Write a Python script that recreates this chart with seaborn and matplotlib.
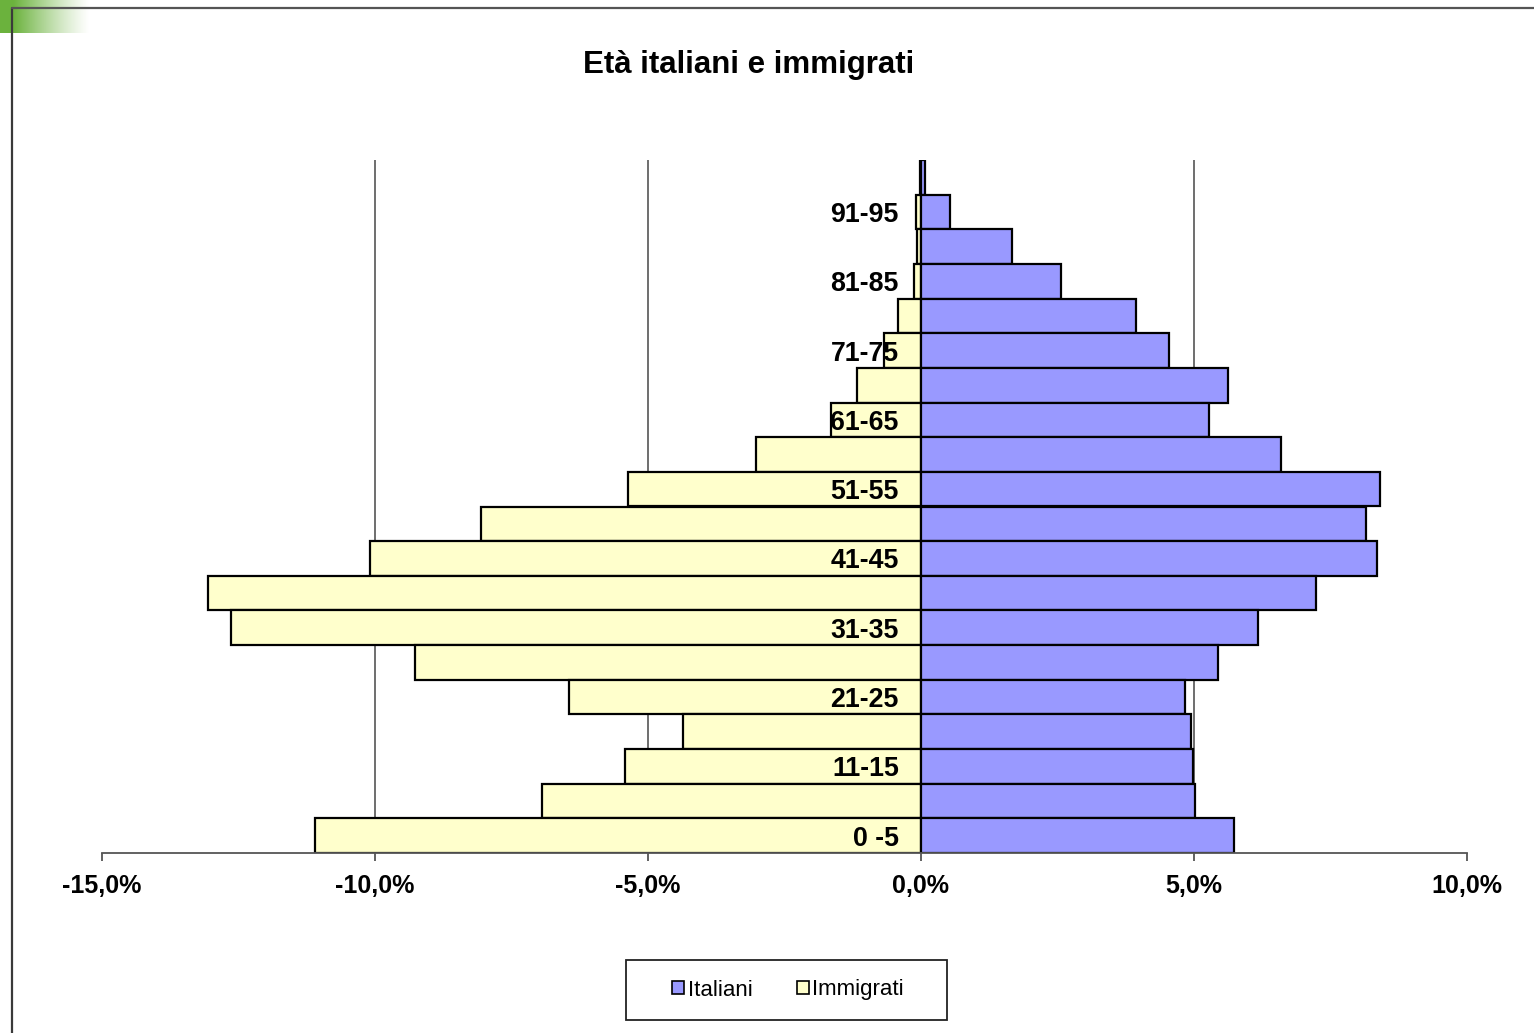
import numpy as np
import pandas as pd
import matplotlib
matplotlib.use("Agg")
import matplotlib.pyplot as plt
import seaborn as sns
from matplotlib.patches import Patch, Rectangle
from matplotlib.lines import Line2D
from matplotlib.ticker import FuncFormatter, FixedLocator

# ---- data ----
categories = ["0 -5", "6-10", "11-15", "16-20", "21-25", "26-30", "31-35", "36-40",
              "41-45", "46-50", "51-55", "56-60", "61-65", "66-70", "71-75", "76-80",
              "81-85", "86-90", "91-95", "96-100"]
italiani = [5.73, 5.02, 4.98, 4.95, 4.84, 5.44, 6.17, 7.23, 8.35, 8.15,
            8.41, 6.59, 5.27, 5.62, 4.54, 3.94, 2.56, 1.67, 0.53, 0.07]
immigrati = [-11.10, -6.94, -5.42, -4.36, -6.45, -9.27, -12.64, -13.06, -10.09, -8.06,
             -5.37, -3.02, -1.65, -1.17, -0.68, -0.42, -0.13, -0.07, -0.09, -0.02]
x_ticks = [-15, -10, -5, 0, 5, 10]
title = "Età italiani e immigrati"
series_names = ["Italiani", "Immigrati"]
col_ita = "#9999FF"
col_imm = "#FFFFCC"

df = pd.DataFrame({"Età": categories, "Italiani": italiani, "Immigrati": immigrati})

sns.set_style("white")
plt.rcParams["font.family"] = ["Liberation Sans", "DejaVu Sans"]
plt.rcParams["text.color"] = "black"
plt.rcParams["xtick.color"] = "black"
plt.rcParams["ytick.color"] = "black"

W, H = 1534, 1033
fig = plt.figure(figsize=(W / 100, H / 100), dpi=100)
ax = fig.add_axes([102 / W, 1 - 853 / H, (1467 - 102) / W, (853 - 160) / H])

order = categories[::-1]
sns.barplot(data=df, x="Immigrati", y="Età", order=order, orient="h", color=col_imm,
            saturation=1, width=1.0, edgecolor="black", linewidth=1.6, ax=ax)
sns.barplot(data=df, x="Italiani", y="Età", order=order, orient="h", color=col_ita,
            saturation=1, width=1.0, edgecolor="black", linewidth=1.6, ax=ax)

ax.set_xlim(x_ticks[0], x_ticks[-1])
ax.set_xlabel("")
ax.set_ylabel("")

# x axis
ax.xaxis.set_major_locator(FixedLocator(x_ticks))
ax.xaxis.set_major_formatter(FuncFormatter(lambda v, p: f"{v:.1f}%".replace(".", ",")))
ax.tick_params(axis="x", bottom=True, direction="out", length=6, width=1.3,
               color="#555555", labelcolor="black", pad=9, labelsize=18)
ax.grid(axis="x", color="#555555", linewidth=1.2)
ax.grid(axis="y", visible=False)

# y axis labels near zero
ax.spines["left"].set_position(("data", 0))
ax.spines["left"].set_visible(False)
ax.tick_params(axis="y", left=False, length=0, pad=16, labelsize=19.3, labelcolor="black")
ylabels = [c if i % 2 == 0 else "" for i, c in enumerate(categories)][::-1]
ax.set_yticks(range(len(order)))
ax.set_yticklabels(ylabels)

for lab in ax.get_xticklabels() + ax.get_yticklabels():
    lab.set_fontweight("bold")

gls = ax.xaxis.get_gridlines()
for v, gl in zip(x_ticks, gls):
    if v in (x_ticks[0], x_ticks[-1], 0):
        gl.set_visible(False)

for s in ["top", "right"]:
    ax.spines[s].set_visible(False)
ax.spines["bottom"].set_color("#555555")
ax.spines["bottom"].set_linewidth(1.3)

ax.xaxis.set_zorder(0.5)
ax.yaxis.set_zorder(3)

# title
fig.text(749 / W, 1 - 65 / H, title, ha="center", va="center",
         fontsize=22.5, fontweight="bold", color="black")

# legend
handles = [Patch(facecolor=col_ita, edgecolor="black", linewidth=1.2),
           Patch(facecolor=col_imm, edgecolor="black", linewidth=1.2)]
fig.legend(handles, series_names, loc="center", bbox_to_anchor=(788 / W, 1 - 990 / H),
           ncol=2, frameon=False, fontsize=16, handlelength=0.55, handleheight=0.55,
           handletextpad=0.15, columnspacing=2.0, labelcolor="black")
fig.patches.append(Rectangle((626 / W, 1 - 1020 / H), 321 / W, 60 / H,
                             transform=fig.transFigure, fill=False,
                             edgecolor="#222222", linewidth=1.3))

# decoration: green gradient corner and frame lines
gax = fig.add_axes([0, 1 - 33 / H, 90 / W, 33 / H])
t = np.linspace(0, 1, 200)
alpha = np.clip(1 - (t - 0.15) / 0.85, 0, 1) ** 1.2
img = np.zeros((2, 200, 4))
img[..., 0] = 0.42
img[..., 1] = 0.70
img[..., 2] = 0.24
img[..., 3] = alpha
gax.imshow(img, aspect="auto", extent=[0, 1, 0, 1])
gax.axis("off")
fig.add_artist(Line2D([12 / W, 12 / W], [0, 1 - 8 / H], transform=fig.transFigure,
                      color="#3a3a3a", linewidth=1.6))
fig.add_artist(Line2D([12 / W, 1], [1 - 8 / H, 1 - 8 / H], transform=fig.transFigure,
                      color="#555555", linewidth=1.6))

fig.savefig("out.png", dpi=100)
